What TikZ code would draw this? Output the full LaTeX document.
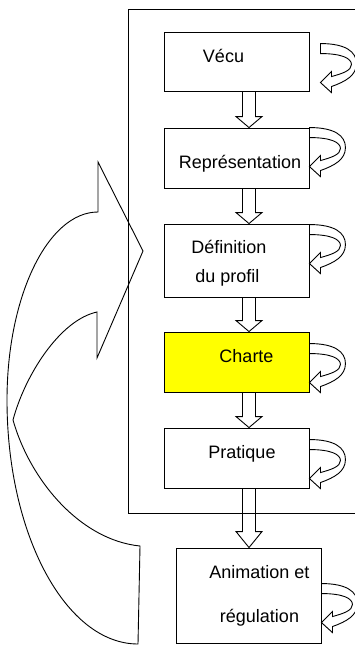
\documentclass[tikz,border=0pt]{standalone}
\usepackage{fontspec}
\setmainfont{Liberation Sans}
\usetikzlibrary{calc}
\definecolor{chartey}{RGB}{255,255,0}

\tikzset{
  box/.style={draw, rectangle, minimum width=145pt, inner sep=0pt},
  lbl/.style={anchor=base, inner sep=0pt, font=\fontsize{18}{21}\selectfont},
  loopback/.pic={
    \draw (0,0) .. controls (25,0) and (36,8) .. (36,20)
      .. controls (36,32) and (25,38) .. (11,43) -- (11,49) -- (0,39) -- (11,28) -- (11,33)
      .. controls (22,30) and (31,27) .. (31,21) .. controls (31,15) and (22,10) .. (0,10) -- cycle;
  }
}

% hollow arrow going down from one step to the next
\newcommand{\blockdown}[3][11pt]{%
  \coordinate (bs) at ([xshift=12.5pt]#2.south);
  \coordinate (be) at (bs |- #3.north);
  \draw ([xshift=-6.5pt]bs) -- ([xshift=-6.5pt,yshift=#1]be) -- ([xshift=-13pt,yshift=#1]be)
    -- (be) -- ([xshift=13pt,yshift=#1]be) -- ([xshift=6.5pt,yshift=#1]be) -- ([xshift=6.5pt]bs);
}

\begin{document}
\begin{tikzpicture}[x=1pt, y=-1pt, line width=0.9pt]
    \useasboundingbox (0,0) rectangle (355,646);
    \clip (0,0) rectangle (355,646);
    % outer frame
    \draw (360,9) -| (128,513) -- (360,513);
    % steps
    \node[box, minimum height=59pt] (vecu) at (236.5,61.5) {};
    \node[box, minimum height=60pt] (repr) at (236.5,158) {};
    \node[box, minimum height=73pt] (defi) at (236.5,260.5) {};
    \node[box, minimum height=60pt, fill=chartey] (charte) at (236.5,362) {};
    \node[box, minimum height=60pt] (prat) at (236.5,458) {};
    \node[box, minimum height=95pt] (anim) at (248.5,595.5) {};
    % texts
    \node[lbl] (lvecu) at (223.5,62) {Vécu};
    \node[lbl] (lrepr) at (240,168) {Représentation};
    \node[lbl, anchor=base west] (ldefi1) at (191,253) {Définition};
    \node[lbl, anchor=base west] (ldefi2) at (195,282) {du profil};
    \node[lbl] (lcharte) at (246.5,362) {Charte};
    \node[lbl] (lprat) at (242,458) {Pratique};
    \node[lbl] (lanim1) at (259.5,578) {Animation et};
    \node[lbl] (lanim2) at (259.5,622) {régulation};
    % arrows between steps
    \blockdown{vecu}{repr}
    \blockdown{repr}{defi}
    \blockdown{defi}{charte}
    \blockdown{charte}{prat}
    \blockdown[16pt]{prat}{anim}
    % loops
    \pic at ([xshift=11pt,yshift=-12pt]vecu.north east) {loopback};
    \pic at (repr.north east) {loopback};
    \pic at ([yshift=-1pt]defi.north east) {loopback};
    \pic at ([yshift=-12pt]charte.north east) {loopback};
    \pic at ([yshift=-12pt]prat.north east) {loopback};
    \pic at ([yshift=-36pt]anim.north east) {loopback};
    % big curved arrow back
    \draw (138,644) .. controls (66,644) and (7,535) .. (7,400)
      .. controls (7,296) and (48,212) .. (98,212) -- (98,162) -- (143,251) -- (97,358) -- (97,312)
      .. controls (60,320) and (25,375) .. (13,420)
      .. controls (30,480) and (80,540) .. (140,546) -- cycle;
\end{tikzpicture}
\end{document}
